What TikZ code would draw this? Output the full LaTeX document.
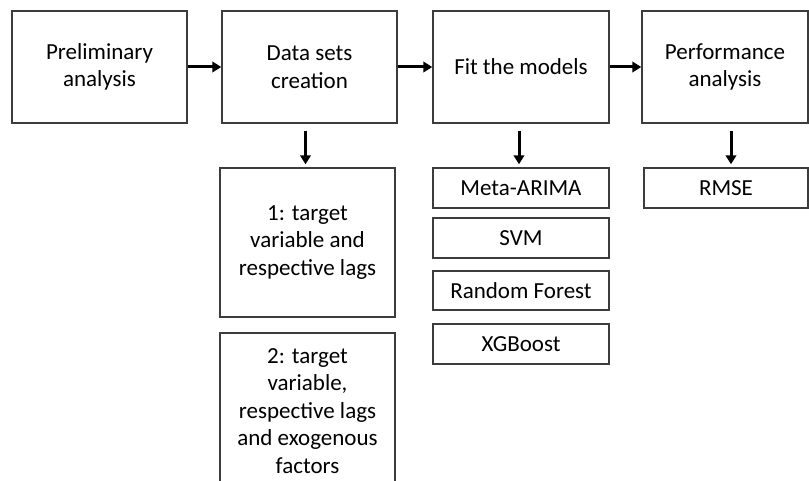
\documentclass[tikz,border=0pt]{standalone}
\usepackage{fontspec}
\setmainfont{Carlito}
\usetikzlibrary{arrows.meta}
\definecolor{boxline}{HTML}{3C3C3C}
\tikzset{
  box/.style={draw=boxline, line width=1.4pt, fill=white, align=center, inner sep=0pt,
    font=\fontsize{23}{27.5}\selectfont},
  arr/.style={line width=3pt, -{Triangle[length=9pt,width=10.5pt]}},
}
\begin{document}
\begin{tikzpicture}[x=1pt,y=-1pt]
\useasboundingbox (0,0) rectangle (809,481);
\clip (0,0) rectangle (809,481);
\fill[white] (0,0) rectangle (809,481);
% top row
\node[box, minimum width=175pt, minimum height=112pt] (prel) at (99.5,67) {Preliminary\\analysis};
\node[box, minimum width=175pt, minimum height=112pt] (data) at (309.5,67) {Data sets\\creation};
\node[box, minimum width=176pt, minimum height=112pt] (fit) at (521,67) {Fit the models};
\node[box, minimum width=166pt, minimum height=112pt] (perf) at (725,67) {Performance\\analysis};
% data sets
\node[box, minimum width=175pt, minimum height=149pt] (ds1) at (307.5,242.5) {1: target\\variable and\\respective lags};
\node[box, minimum width=175pt, minimum height=156pt] (ds2) at (307.5,411) {2: target\\variable,\\respective lags\\and exogenous\\factors};
% models
\node[box, minimum width=176pt, minimum height=40pt] (m1) at (521,188) {Meta-ARIMA};
\node[box, minimum width=176pt, minimum height=40pt] (m2) at (521,238) {SVM};
\node[box, minimum width=176pt, minimum height=39pt] (m3) at (521,290.5) {Random Forest};
\node[box, minimum width=176pt, minimum height=40pt] (m4) at (521,344) {XGBoost};
% metric
\node[box, minimum width=164pt, minimum height=40pt] (rmse) at (726,188) {RMSE};
% arrows
\draw[arr] (prel.east) -- (data.west);
\draw[arr] (data.east) -- (fit.west);
\draw[arr] (fit.east) -- (perf.west);
\draw[arr, shorten <=7pt, shorten >=3pt] ([xshift=-4pt]data.south) -- ([xshift=-2pt]ds1.north);
\draw[arr, shorten <=7pt, shorten >=3pt] ([xshift=-2pt]fit.south) -- ([xshift=-2pt]m1.north);
\draw[arr, shorten <=7pt, shorten >=3pt] ([xshift=6pt]perf.south) -- ([xshift=5pt]rmse.north);
\end{tikzpicture}
\end{document}
